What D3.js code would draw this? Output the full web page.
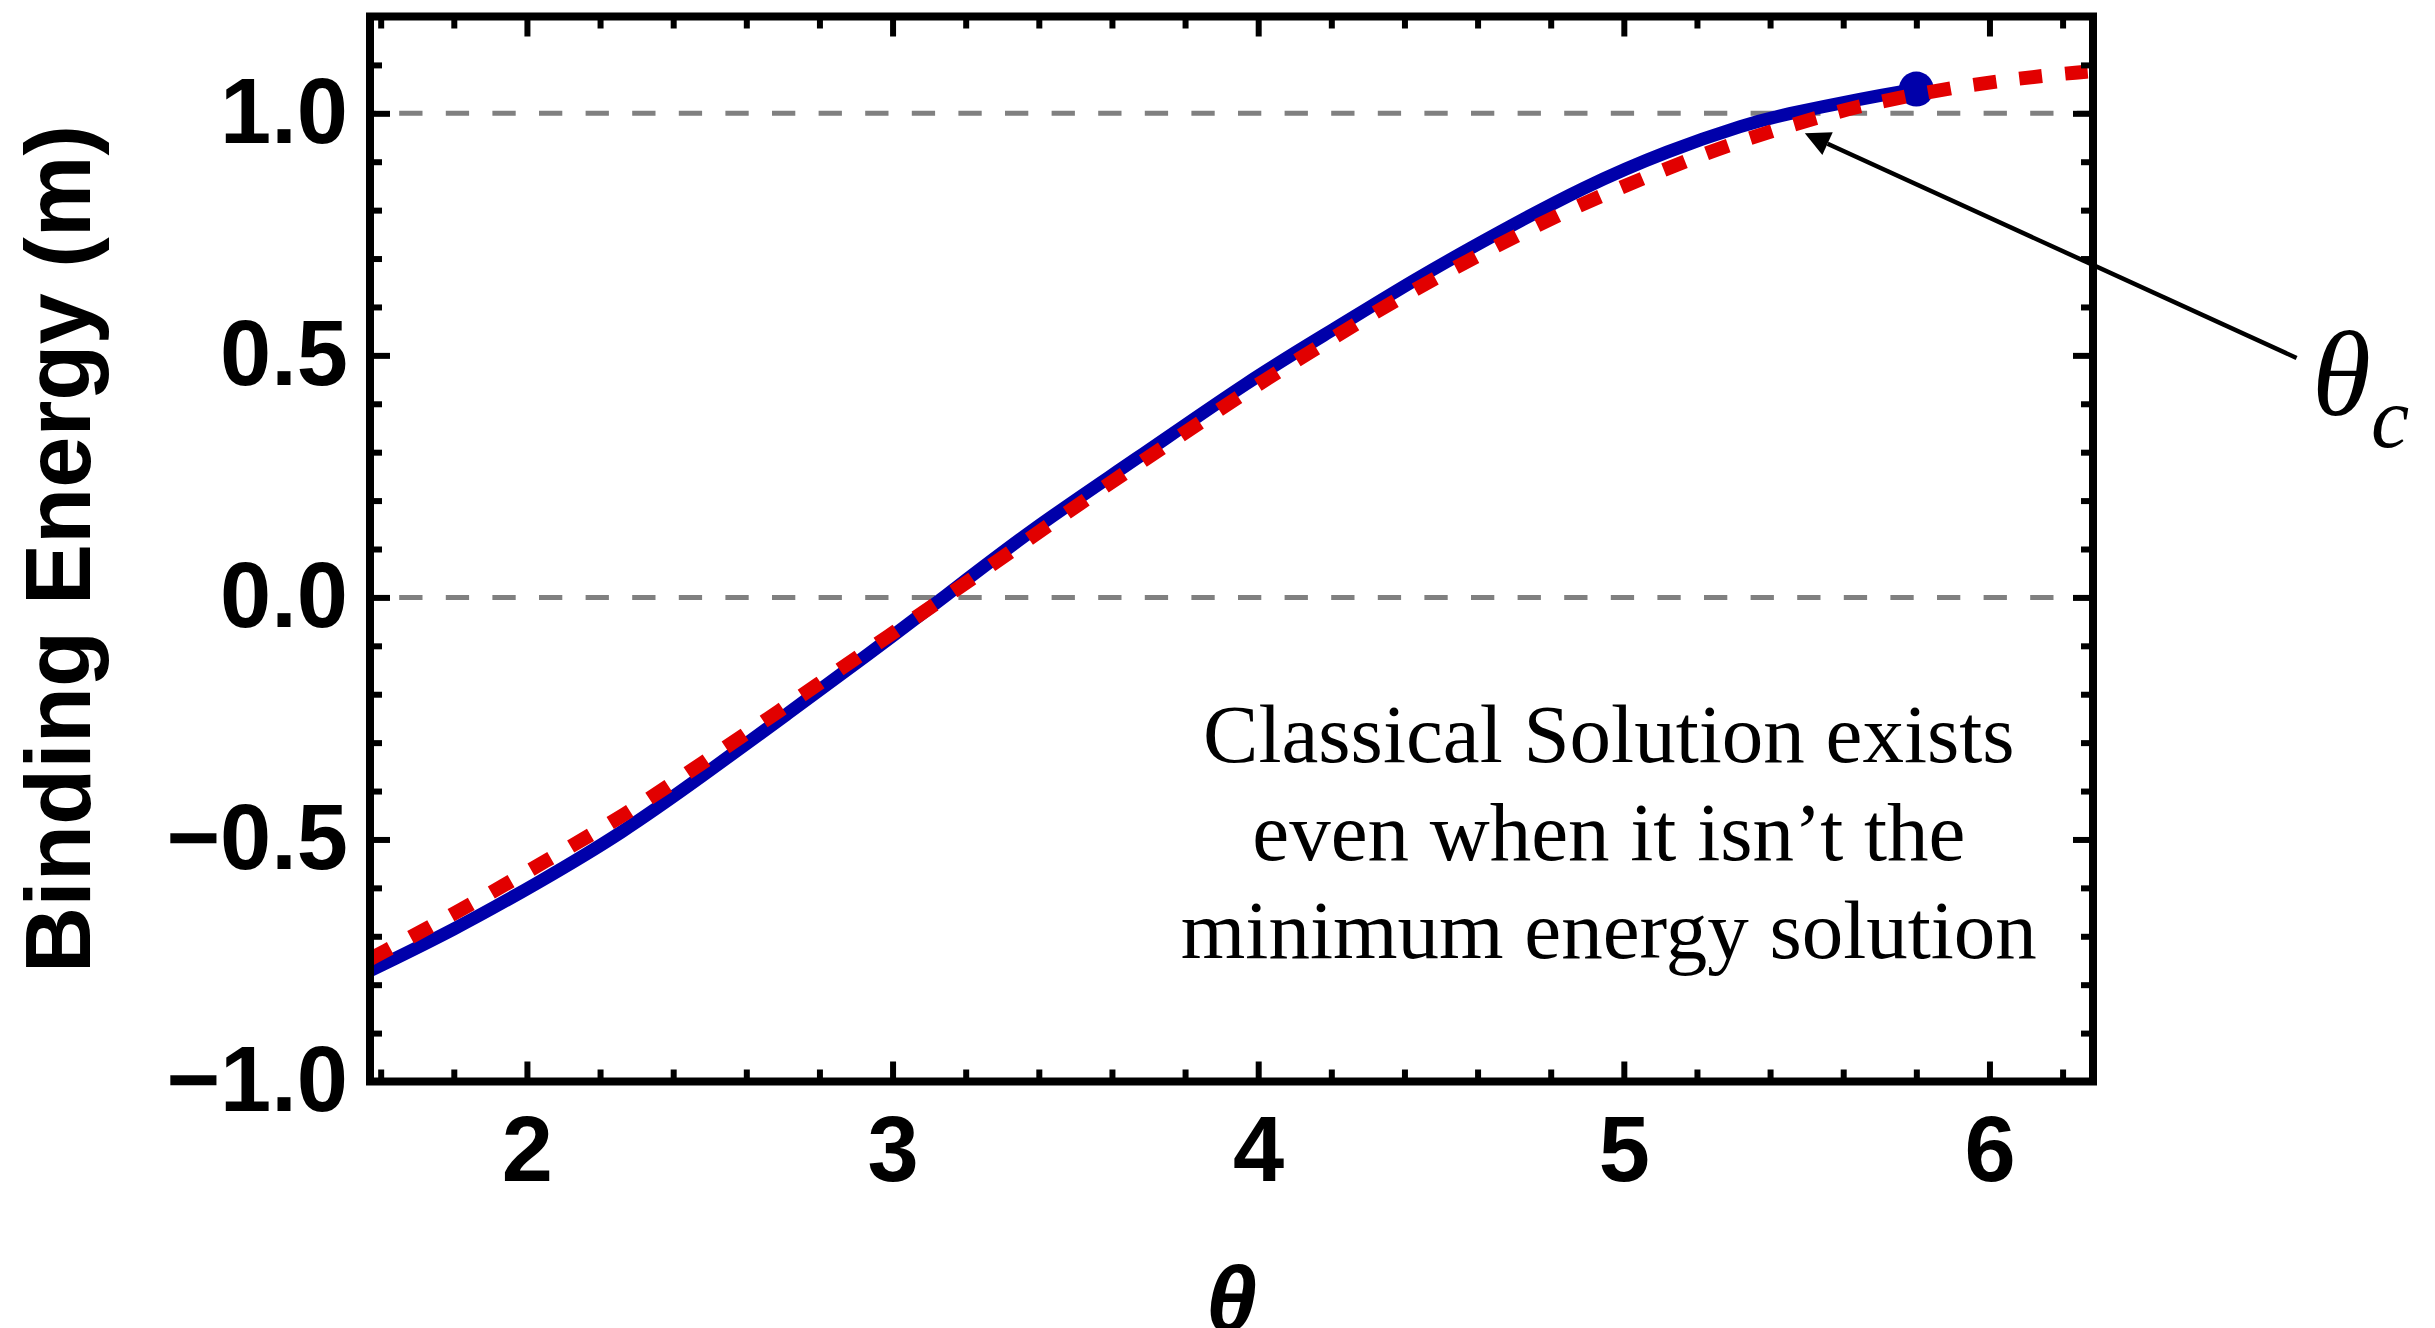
<!DOCTYPE html>
<html lang="en">
<head>
<meta charset="UTF-8">
<title>Binding Energy</title>
<script src="https://cdn.jsdelivr.net/npm/d3@7"></script>
<style>
body { margin: 0; background: #fff; }
.tick text { font-family: "Liberation Sans", Arial, sans-serif; font-weight: bold; font-size: 92px; fill: #000; }
.tick line { stroke: #000; stroke-width: 6; }
.note { font-family: "Liberation Serif", "Times New Roman", serif; font-size: 83px; fill: #000; }
</style>
</head>
<body>
<script>
var width = 2435, height = 1328;
// plot box ("top" is taken by window.top, so keep own names)
var padL = 370, padR = 2093, padT = 16.5, padB = 1081.5;

// solid blue curve (classical solution)
var blueTheta = [1.571, 1.80, 2.03, 2.26, 2.48, 2.71, 2.94, 3.14, 3.39, 3.66, 3.98, 4.21, 4.43, 4.66, 4.89, 5.12, 5.34, 5.43, 5.66, 5.80];
var blueValue = [-0.771, -0.687, -0.590, -0.487, -0.369, -0.242, -0.114, 0.0, 0.146, 0.282, 0.451, 0.555, 0.658, 0.755, 0.848, 0.923, 0.979, 0.996, 1.032, 1.050];

// dashed red curve
var redTheta = [1.571, 1.83, 2.05, 2.27, 2.48, 2.69, 2.90, 3.11, 3.32, 3.53, 3.74, 3.95, 4.17, 4.38, 4.61, 4.83, 5.07, 5.30, 5.55, 5.67, 5.92, 6.17, 6.283];
var redValue = [-0.747, -0.642, -0.545, -0.449, -0.342, -0.235, -0.125, -0.018, 0.093, 0.203, 0.310, 0.417, 0.520, 0.617, 0.710, 0.795, 0.872, 0.940, 0.996, 1.020, 1.057, 1.080, 1.087];

// end point of the classical solution
var critTheta = [5.80];
var critValue = [1.050];

var xTicks = [2, 3, 4, 5, 6];
var yTicks = [-1, -0.5, 0, 0.5, 1];
var refLines = [0, 1];

var svg = d3.select("body").append("svg")
    .attr("width", width)
    .attr("height", height);

var x = d3.scaleLinear().domain([Math.PI / 2, 2 * Math.PI]).range([padL, padR]);
var y = d3.scaleLinear().domain([-1, 1.2]).range([padB, padT]);

svg.append("defs").append("clipPath").attr("id", "plot")
    .append("rect")
    .attr("x", padL).attr("y", padT)
    .attr("width", padR - padL).attr("height", padB - padT);

// gray dashed reference lines
svg.append("g").selectAll("line")
    .data(refLines).enter()
    .append("line")
    .attr("x1", padL).attr("x2", padR)
    .attr("y1", function(d) { return y(d); })
    .attr("y2", function(d) { return y(d); })
    .attr("stroke", "#808080")
    .attr("stroke-width", 5)
    .attr("stroke-dasharray", "23.3,23.3")
    .attr("stroke-dashoffset", 17.4);

var line = d3.line()
    .x(function(d) { return x(d[0]); })
    .y(function(d) { return y(d[1]); })
    .curve(d3.curveBasis);

var curves = svg.append("g").attr("clip-path", "url(#plot)");

curves.append("path")
    .datum(d3.zip(blueTheta, blueValue))
    .attr("d", line)
    .attr("fill", "none")
    .attr("stroke", "#0000aa")
    .attr("stroke-width", 13);

curves.selectAll("circle")
    .data(d3.zip(critTheta, critValue)).enter()
    .append("circle")
    .attr("cx", function(d) { return x(d[0]); })
    .attr("cy", function(d) { return y(d[1]); })
    .attr("r", 17.5)
    .attr("fill", "#0000aa");

curves.append("path")
    .datum(d3.zip(redTheta, redValue))
    .attr("d", line)
    .attr("fill", "none")
    .attr("stroke", "#e20000")
    .attr("stroke-width", 14)
    .attr("stroke-dasharray", "23,23");

// frame
svg.append("rect")
    .attr("x", padL).attr("y", padT)
    .attr("width", padR - padL).attr("height", padB - padT)
    .attr("fill", "none")
    .attr("stroke", "#000")
    .attr("stroke-width", 8);

// ticks on all four sides, pointing inward
var xMinor = d3.range(1.6, 6.3, 0.2).filter(function(v) { return Math.abs(v - Math.round(v)) > 0.01; });
var yMinor = d3.range(-0.9, 1.2, 0.1).filter(function(v) { return Math.abs(v * 2 - Math.round(v * 2)) > 0.01; });

function clean(g) { g.select(".domain").remove(); }

svg.append("g").attr("transform", "translate(0," + padB + ")")
    .call(d3.axisBottom(x).tickValues(xTicks).tickSize(-20).tickPadding(34).tickFormat(d3.format("d")))
    .call(clean);
svg.append("g").attr("transform", "translate(0," + padB + ")")
    .call(d3.axisBottom(x).tickValues(xMinor).tickSize(-12).tickFormat(""))
    .call(clean);
svg.append("g").attr("transform", "translate(0," + padT + ")")
    .call(d3.axisTop(x).tickValues(xTicks).tickSize(-20).tickFormat(""))
    .call(clean);
svg.append("g").attr("transform", "translate(0," + padT + ")")
    .call(d3.axisTop(x).tickValues(xMinor).tickSize(-12).tickFormat(""))
    .call(clean);

svg.append("g").attr("transform", "translate(" + padL + ",0)")
    .call(d3.axisLeft(y).tickValues(yTicks).tickSize(-20).tickPadding(22).tickFormat(d3.format(".1f")))
    .call(clean);
svg.append("g").attr("transform", "translate(" + padL + ",0)")
    .call(d3.axisLeft(y).tickValues(yMinor).tickSize(-12).tickFormat(""))
    .call(clean);
svg.append("g").attr("transform", "translate(" + padR + ",0)")
    .call(d3.axisRight(y).tickValues(yTicks).tickSize(-20).tickFormat(""))
    .call(clean);
svg.append("g").attr("transform", "translate(" + padR + ",0)")
    .call(d3.axisRight(y).tickValues(yMinor).tickSize(-12).tickFormat(""))
    .call(clean);

// axis titles
svg.append("text")
    .attr("transform", "translate(90," + ((padT + padB) / 2) + ") rotate(-90)")
    .attr("text-anchor", "middle")
    .style("font-family", "'Liberation Sans', Arial, sans-serif")
    .style("font-weight", "bold")
    .style("font-size", "92px")
    .text("Binding Energy (m)");

svg.append("text")
    .attr("x", (padL + padR) / 2)
    .attr("y", 1331)
    .attr("text-anchor", "middle")
    .style("font-family", "'Liberation Sans', Arial, sans-serif")
    .style("font-weight", "bold")
    .style("font-style", "italic")
    .style("font-size", "92px")
    .text("θ");

// annotation text
var noteLines = ["Classical Solution exists", "even when it isn’t the", "minimum energy solution"];
svg.append("g").selectAll("text")
    .data(noteLines).enter()
    .append("text")
    .attr("class", "note")
    .attr("x", x(4.959))
    .attr("y", function(d, i) { return y(-0.340) + i * 98; })
    .attr("text-anchor", "middle")
    .text(function(d) { return d; });

// arrow pointing to theta_c
var tip = [x(5.495), y(0.9587)];
var tail = [x(6.840), y(0.4946)];
var dx = tip[0] - tail[0], dy = tip[1] - tail[1];
var len = Math.sqrt(dx * dx + dy * dy);
var ux = dx / len, uy = dy / len;
var headLen = 25, headHalf = 12.5;
var base = [tip[0] - ux * headLen, tip[1] - uy * headLen];

svg.append("line")
    .attr("x1", tail[0]).attr("y1", tail[1])
    .attr("x2", base[0]).attr("y2", base[1])
    .attr("stroke", "#000")
    .attr("stroke-width", 4.5);

svg.append("path")
    .attr("d", "M" + tip[0] + "," + tip[1] +
        "L" + (base[0] - uy * headHalf) + "," + (base[1] + ux * headHalf) +
        "L" + (base[0] + uy * headHalf) + "," + (base[1] - ux * headHalf) + "Z")
    .attr("fill", "#000");

var thetaC = svg.append("text")
    .attr("x", 2312)
    .attr("y", 415)
    .style("font-family", "'Liberation Serif', 'Times New Roman', serif")
    .style("font-style", "italic")
    .style("font-size", "120px")
    .text("θ");
thetaC.append("tspan")
    .attr("dy", 32)
    .style("font-size", "86px")
    .text("c");
</script>
</body>
</html>
